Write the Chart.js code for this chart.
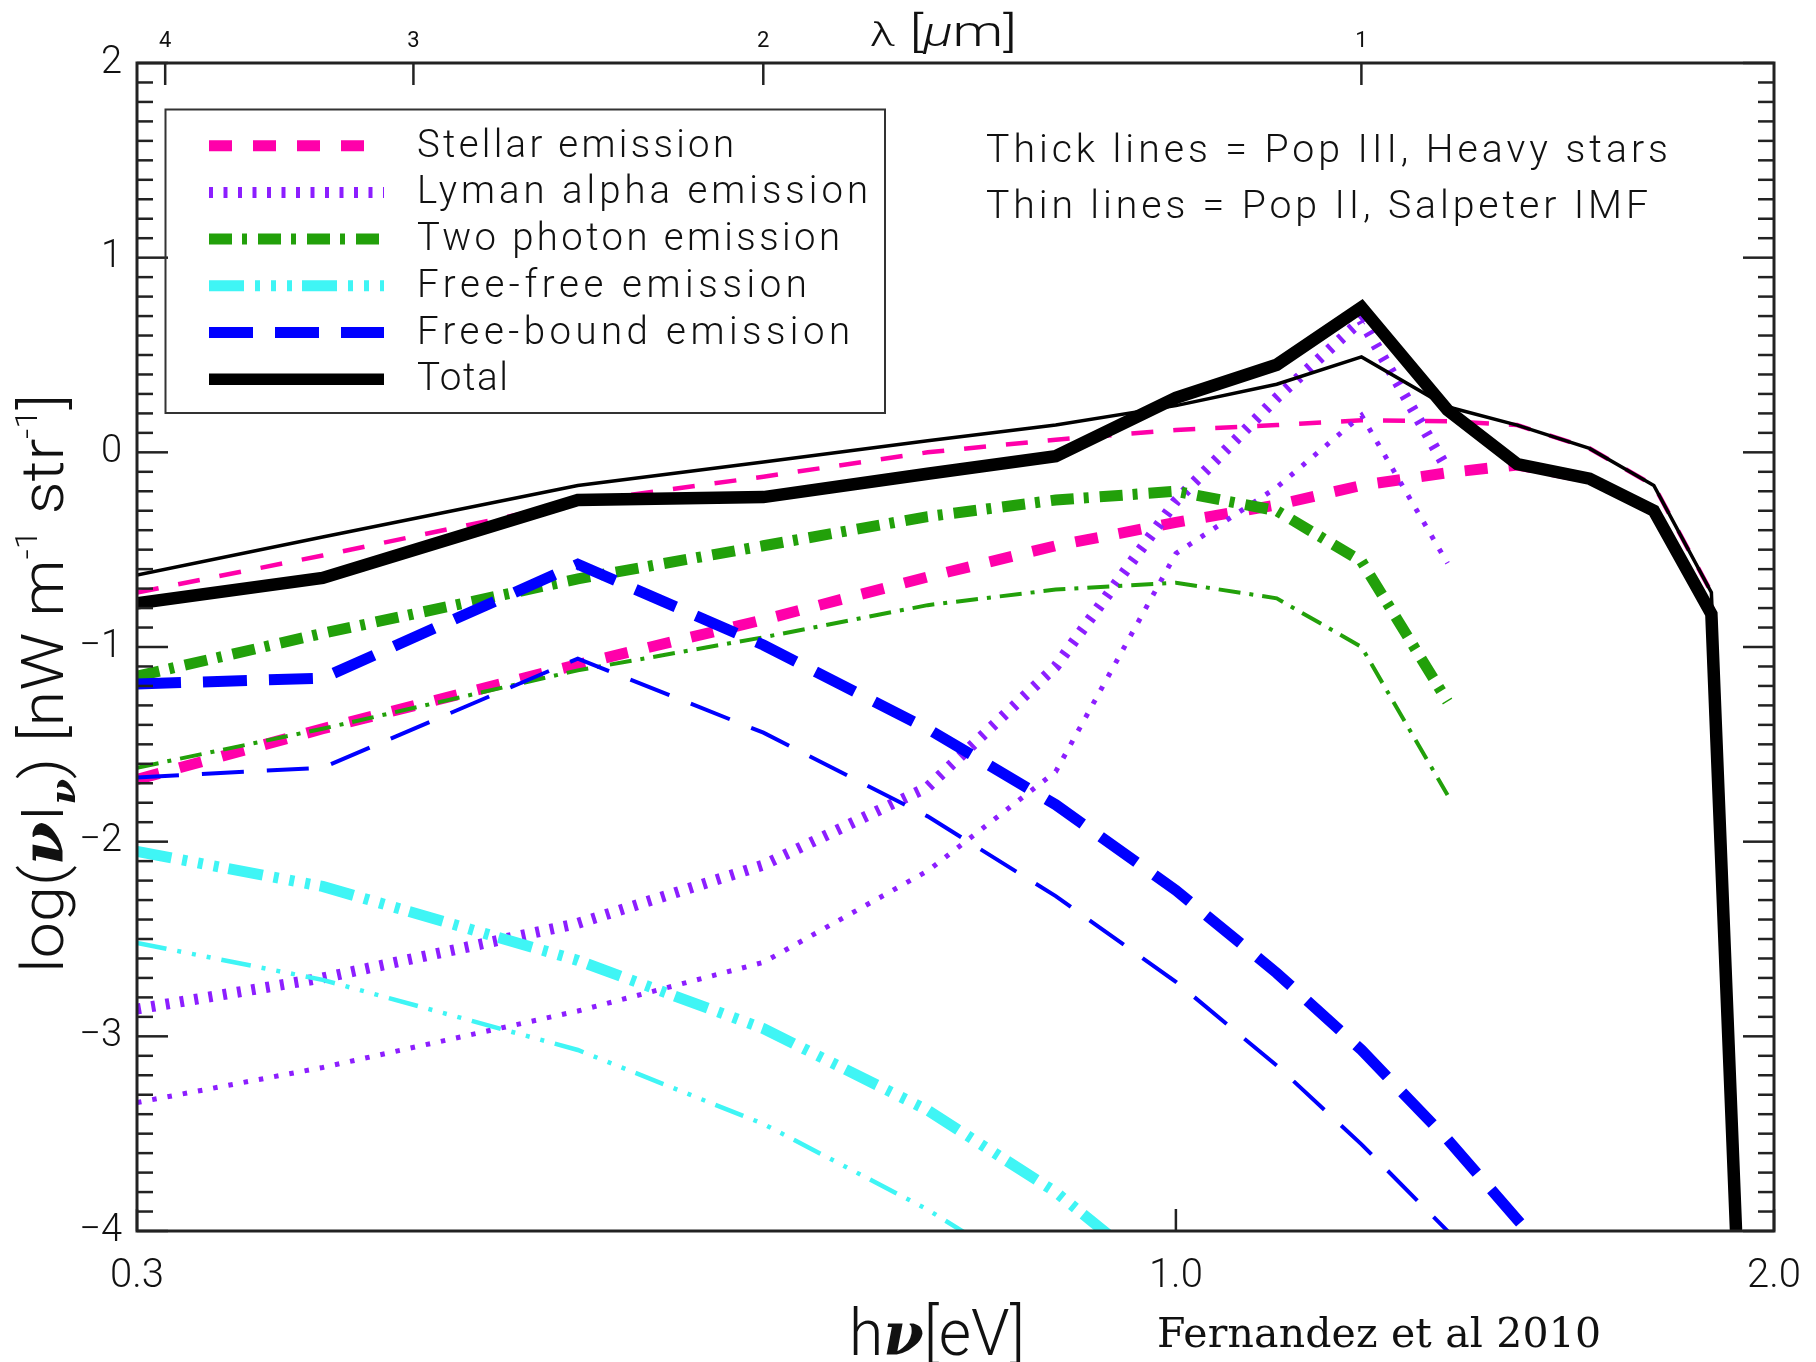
<!DOCTYPE html>
<html>
<head>
<meta charset="utf-8">
<title>Near-IR background from reionization sources</title>
<script src="https://cdn.jsdelivr.net/npm/chart.js@4.4.1/dist/chart.umd.min.js"></script>
<style>
  html, body { margin: 0; padding: 0; background: #ffffff; }
  #wrap { width: 1816px; height: 1362px; position: relative; }
  canvas { display: block; }
</style>
</head>
<body>
<div id="wrap"><canvas id="sed" width="1816" height="1362"></canvas></div>
<script>
// hc in eV * micron, converts the wavelength ticks of the top axis to photon energy
const HC = 1.23984;

// Photon energy grid of the model spectra [eV]
const energy = [0.30, 0.372, 0.50, 0.62, 0.75, 0.87, 1.00, 1.124, 1.24, 1.37, 1.485, 1.615, 1.74, 1.86, 1.94];

// log(nu I_nu) [nW m^-1 sr^-1] -- Pop III, heavy stars (thick lines)
const stellarPop3    = [-1.68, -1.42, -1.09, -0.86, -0.64, -0.48, -0.36, -0.27, -0.17, -0.105, -0.065, -0.135, -0.30, -0.83, -5.5];
const lymanPop3      = [-2.86, -2.70, -2.42, -2.12, -1.72, -1.10, -0.25, 0.28, 0.68, -0.09];
const twoPhotonPop3  = [-1.15, -0.93, -0.65, -0.48, -0.33, -0.245, -0.20, -0.30, -0.56, -1.28];
const freeFreePop3   = [-2.05, -2.23, -2.61, -2.96, -3.38, -3.80, -4.30];
const freeBoundPop3  = [-1.19, -1.16, -0.575, -0.99, -1.42, -1.81, -2.25, -2.675, -3.07, -3.53, -3.94, -4.36];
const totalPop3      = [-0.775, -0.645, -0.245, -0.23, -0.11, -0.02, 0.28, 0.45, 0.745, 0.217, -0.06, -0.135, -0.30, -0.83, -5.5];

// log(nu I_nu) [nW m^-1 sr^-1] -- Pop II, Salpeter IMF (thin lines)
const stellarPop2    = [-0.72, -0.53, -0.255, -0.125, 0.0, 0.065, 0.115, 0.14, 0.165, 0.16, 0.14, 0.02, -0.17, -0.72, -5.5];
const lymanPop2      = [-3.34, -3.16, -2.87, -2.62, -2.15, -1.64, -0.52, -0.18, 0.19, -0.57];
const twoPhotonPop2  = [-1.62, -1.42, -1.12, -0.95, -0.785, -0.705, -0.67, -0.75, -1.00, -1.76];
const freeFreePop2   = [-2.52, -2.71, -3.07, -3.45, -3.89, -4.30];
const freeBoundPop2  = [-1.67, -1.62, -1.06, -1.44, -1.87, -2.28, -2.72, -3.15, -3.555, -4.00, -4.50];
const totalPop2      = [-0.63, -0.435, -0.17, -0.05, 0.06, 0.14, 0.24, 0.35, 0.49, 0.234, 0.14, 0.02, -0.17, -0.72, -5.5];

// Axis ticks
const energyTicks = [0.3, 1.0, 2.0];
const energyTickLabels = ['0.3', '1.0', '2.0'];
const wavelengthTicks = [4, 3, 2, 1];
const wavelengthTickLabels = ['4', '3', '2', '1'];
const logRange = [-4, 2];

// Emission components: colour and line style for Pop III (thick) and Pop II (thin)
const components = {
  stellar:   { label: 'Stellar emission',       color: '#ff00aa',
               thick: { w: 11, dash: [23, 21] },  thin: { w: 4.5, dash: [22, 20] } },
  lyman:     { label: 'Lyman alpha emission',   color: '#8c1eff',
               thick: { w: 11, dash: [4, 10.5] }, thin: { w: 5, dash: [4.5, 11] } },
  twoPhoton: { label: 'Two photon emission',    color: '#22a00a',
               thick: { w: 11, dash: [23, 10, 5, 11] }, thin: { w: 4, dash: [22, 9, 4, 9] } },
  freeFree:  { label: 'Free-free emission',     color: '#3ff5f5',
               thick: { w: 11, dash: [35, 11, 5, 11, 5, 11, 5, 10] }, thin: { w: 4.5, dash: [30, 11, 4, 11, 4, 11, 4, 11] } },
  freeBound: { label: 'Free-bound emission',    color: '#0000ff',
               thick: { w: 11, dash: [44, 22] }, thin: { w: 4, dash: [42, 23] } },
  total:     { label: 'Total',                  color: '#000000',
               thick: { w: 12.5, dash: [] },     thin: { w: 3.5, dash: [] } }
};

const SANS = "Roboto, 'Liberation Sans', 'DejaVu Sans', sans-serif";
const INK = '#111111';
const FRAME = '#222222';

function lineSeries(key, weight, values) {
  const c = components[key];
  const st = c[weight];
  const pts = [];
  values.forEach((v, i) => { if (v !== null && v !== undefined) pts.push({ x: energy[i], y: v }); });
  return {
    label: c.label + (weight === 'thick' ? ' (Pop III)' : ' (Pop II)'),
    component: key,
    weight: weight,
    data: pts,
    borderColor: c.color,
    backgroundColor: c.color,
    borderWidth: st.w,
    borderDash: st.dash,
    borderCapStyle: 'butt',
    borderJoinStyle: 'miter',
    pointRadius: 0,
    pointHoverRadius: 0,
    fill: false,
    tension: 0,
    clip: 0
  };
}

// First dataset is painted last (on top)
const datasets = [
  lineSeries('total', 'thick', totalPop3),
  lineSeries('total', 'thin', totalPop2),
  lineSeries('freeBound', 'thick', freeBoundPop3),
  lineSeries('freeBound', 'thin', freeBoundPop2),
  lineSeries('freeFree', 'thick', freeFreePop3),
  lineSeries('freeFree', 'thin', freeFreePop2),
  lineSeries('twoPhoton', 'thick', twoPhotonPop3),
  lineSeries('twoPhoton', 'thin', twoPhotonPop2),
  lineSeries('lyman', 'thick', lymanPop3),
  lineSeries('lyman', 'thin', lymanPop2),
  lineSeries('stellar', 'thick', stellarPop3),
  lineSeries('stellar', 'thin', stellarPop2)
];

const legendOrder = ['stellar', 'lyman', 'twoPhoton', 'freeFree', 'freeBound', 'total'];
const legendTextWidth = { stellar: 317, lyman: 451, twoPhoton: 423, freeFree: 390, freeBound: 433, total: 91 };

// ---- text helpers -------------------------------------------------------
function fontPx(font) {
  const m = font.match(/(\d+(?:\.\d+)?)px/);
  return m ? parseFloat(m[1]) : 16;
}

// Draw a line of text starting at x on the given baseline, stretched to a width
// with letter spacing first (wide-set plotting font), then horizontal scaling.
function spacedText(ctx, text, x, baseline, font, width) {
  ctx.save();
  ctx.font = font;
  ctx.textAlign = 'left';
  ctx.textBaseline = 'alphabetic';
  const hasLS = 'letterSpacing' in ctx;
  if (hasLS) ctx.letterSpacing = '0px';
  let w = ctx.measureText(text).width;
  if (width) {
    if (hasLS) {
      const n = Array.from(text).length;
      const ls = Math.max(0, Math.min((width - w) / n, fontPx(font) * 0.14));
      ctx.letterSpacing = ls.toFixed(2) + 'px';
      w = ctx.measureText(text).width - ls;
    }
  }
  const sx = width ? width / w : 1;
  ctx.translate(x, baseline);
  ctx.scale(sx, 1);
  ctx.fillText(text, 0, 0);
  ctx.restore();
}

// Mixed-font text (sub/superscripts, Greek symbols) fitted to a length.
function richText(ctx, parts, x, baseline, length, rotation, align) {
  ctx.save();
  ctx.textBaseline = 'alphabetic';
  ctx.textAlign = 'left';
  let total = 0;
  const widths = parts.map(p => { ctx.font = p.font; const w = ctx.measureText(p.text).width; total += w; return w; });
  const s = length ? length / total : 1;
  ctx.translate(x, baseline);
  if (rotation) ctx.rotate(rotation);
  ctx.scale(s, 1);
  let cx = align === 'center' ? -total / 2 : 0;
  parts.forEach((p, i) => {
    ctx.font = p.font;
    ctx.fillText(p.text, cx, p.dy || 0);
    cx += widths[i];
  });
  ctx.restore();
}

// ---- frame with inward tick marks ----------------------------------------
const framePlugin = {
  id: 'frameTicks',
  afterDatasetsDraw(chart) {
    const ctx = chart.ctx;
    const { left, right, top, bottom } = chart.chartArea;
    const ys = chart.scales.y, xs = chart.scales.x, xt = chart.scales.xTop;
    ctx.save();
    ctx.strokeStyle = FRAME;
    ctx.lineCap = 'butt';
    ctx.lineWidth = 2.5;
    const seg = (x0, y0, x1, y1) => { ctx.beginPath(); ctx.moveTo(x0, y0); ctx.lineTo(x1, y1); ctx.stroke(); };
    for (let k = logRange[0] * 10; k <= logRange[1] * 10; k++) {
      const py = ys.getPixelForValue(k / 10);
      const len = (k % 10 === 0) ? 31 : 16;
      seg(left, py, left + len, py);
      seg(right - len, py, right, py);
    }
    xs.ticks.forEach(t => { const px = xs.getPixelForValue(t.value); seg(px, bottom, px, bottom - 22); });
    xt.ticks.forEach(t => { const px = xt.getPixelForValue(t.value); seg(px, top, px, top + 22); });
    ctx.lineWidth = 3;
    ctx.strokeRect(left, top, right - left, bottom - top);
    ctx.restore();
  }
};

// ---- legend box, notes and axis titles -----------------------------------
const notesPlugin = {
  id: 'notes',
  afterDraw(chart) {
    const ctx = chart.ctx;
    ctx.save();
    ctx.fillStyle = INK;

    // legend box
    ctx.strokeStyle = '#333333';
    ctx.lineWidth = 2;
    ctx.strokeRect(165.5, 109.5, 719.5, 303.5);
    legendOrder.forEach((key, i) => {
      const ds = chart.data.datasets.find(d => d.component === key && d.weight === 'thick');
      const base = 156.7 + i * 46.7;
      const ly = base - 11;
      ctx.save();
      ctx.strokeStyle = ds.borderColor;
      ctx.lineWidth = Math.min(ds.borderWidth, 11.5);
      ctx.setLineDash(ds.borderDash);
      ctx.lineCap = 'butt';
      ctx.beginPath();
      ctx.moveTo(209, ly);
      ctx.lineTo(384, ly);
      ctx.stroke();
      ctx.restore();
      spacedText(ctx, components[key].label, 417, base, '300 38px ' + SANS, legendTextWidth[key]);
    });

    // population notes
    spacedText(ctx, 'Thick lines = Pop III, Heavy stars', 986, 161.5, '300 39px ' + SANS, 682);
    spacedText(ctx, 'Thin lines = Pop II, Salpeter IMF', 986, 218, '300 39px ' + SANS, 662);

    // top axis title
    richText(ctx, [
      { text: 'λ', font: '300 34px ' + SANS },
      { text: ' [', font: '300 42px ' + SANS },
      { text: 'μ', font: 'italic 300 40px ' + SANS },
      { text: 'm]', font: '300 42px ' + SANS }
    ], 870, 46, 147, 0, 'left');

    // bottom axis title
    richText(ctx, [
      { text: 'h', font: '300 64px ' + SANS },
      { text: 'ν', font: "bold italic 60px 'DejaVu Serif', serif" },
      { text: '[eV]', font: '300 64px ' + SANS }
    ], 849, 1355, 176, 0, 'left');

    // reference
    spacedText(ctx, 'Fernandez et al 2010', 1157, 1347, "41px 'DejaVu Serif', 'Liberation Serif', serif", 444);

    // vertical axis title
    richText(ctx, [
      { text: 'log(', font: '300 60px ' + SANS },
      { text: 'ν', font: "bold italic 58px 'DejaVu Serif', serif" },
      { text: 'I', font: '300 60px ' + SANS },
      { text: 'ν', font: "bold italic 34px 'DejaVu Serif', serif", dy: 12 },
      { text: ') [nW m', font: '300 60px ' + SANS },
      { text: '-1', font: '300 32px ' + SANS, dy: -26 },
      { text: ' str', font: '300 60px ' + SANS },
      { text: '-1', font: '300 32px ' + SANS, dy: -26 },
      { text: ']', font: '300 60px ' + SANS }
    ], 63, 683.5, 579, -Math.PI / 2, 'center');

    ctx.restore();
  }
};

const ctx = document.getElementById('sed').getContext('2d');
new Chart(ctx, {
  type: 'line',
  data: { datasets: datasets },
  options: {
    responsive: false,
    devicePixelRatio: 1,
    animation: false,
    events: [],
    layout: { padding: 0 },
    plugins: { legend: { display: false }, tooltip: { enabled: false }, title: { display: false } },
    scales: {
      x: {
        type: 'logarithmic',
        position: 'bottom',
        min: 0.3,
        max: 2.0,
        afterBuildTicks: s => { s.ticks = energyTicks.map(v => ({ value: v })); },
        afterFit: s => { s.height = 131; },
        grid: { display: false, drawTicks: false },
        border: { display: false },
        ticks: {
          autoSkip: false, maxRotation: 0, minRotation: 0, padding: 0,
          color: INK, font: { family: SANS, size: 40, weight: '300', lineHeight: 2.3 },
          callback: (v, i) => energyTickLabels[i]
        }
      },
      xTop: {
        type: 'logarithmic',
        position: 'top',
        min: 0.3,
        max: 2.0,
        afterBuildTicks: s => { s.ticks = wavelengthTicks.map(l => ({ value: HC / l })); },
        afterFit: s => { s.height = 63; },
        grid: { display: false, drawTicks: false },
        border: { display: false },
        ticks: {
          autoSkip: false, maxRotation: 0, minRotation: 0, padding: 8,
          color: INK, font: { family: SANS, size: 22, weight: '400', lineHeight: 1.2 },
          callback: (v, i) => wavelengthTickLabels[i]
        }
      },
      y: {
        type: 'linear',
        position: 'left',
        min: logRange[0],
        max: logRange[1],
        afterFit: s => { s.width = 137; },
        grid: { display: false, drawTicks: false },
        border: { display: false },
        ticks: {
          stepSize: 1, padding: 15, color: INK,
          font: { family: SANS, size: 38, weight: '300', lineHeight: 1.2 },
          callback: v => (v < 0 ? '\u2212' + Math.abs(v) : String(v))
        }
      },
      yRight: {
        type: 'linear',
        position: 'right',
        min: logRange[0],
        max: logRange[1],
        afterFit: s => { s.width = 42; },
        grid: { display: false, drawTicks: false },
        border: { display: false },
        ticks: { display: false }
      }
    }
  },
  plugins: [framePlugin, notesPlugin]
});
</script>
</body>
</html>
